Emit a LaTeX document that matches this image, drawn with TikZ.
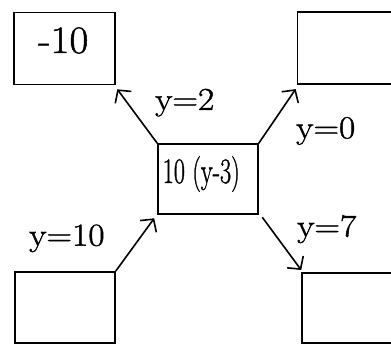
\documentclass[tikz,border=0pt]{standalone}
\usepackage{graphicx}
\usepackage{fontspec}
\newfontfamily\heavyfont{Latin Modern Roman}[FakeBold=1.2]
\usetikzlibrary{arrows.meta}
\tikzset{
  box/.style={draw, line width=1.6pt, rectangle, inner sep=0pt},
  arr/.style={line width=1.6pt, -{Straight Barb[length=9pt, width=20pt, line width=1.6pt]}},
  lbl/.style={anchor=base west, inner sep=0pt, font=\heavyfont\fontsize{32}{38}\selectfont},
}
\begin{document}
\begin{tikzpicture}[x=1pt, y=-1pt]
  \useasboundingbox (0,0) rectangle (391,344);
  % boxes
  \node[box, minimum width=101pt, minimum height=72pt] (tl) at (64.5,48.5) {};
  \node[box, minimum width=101pt, minimum height=72pt] (tr) at (347.8,48) {};
  \node[box, minimum width=100pt, minimum height=70pt] (c)  at (208,179) {};
  \node[box, minimum width=100pt, minimum height=71pt] (bl) at (65,307.3) {};
  \node[box, minimum width=100pt, minimum height=70pt] (br) at (352,307.8) {};
  % box texts
  \node[lbl, font=\heavyfont\fontsize{38.8}{44}\selectfont] (tltext) at (38,53) {\scalebox{1.06}[1]{-10}};
  \node[lbl, font=\heavyfont\fontsize{35.7}{40}\selectfont] (ctext) at (162.5,183) {\scalebox{0.68}[1]{10 (y-3)}};
  % arrows
  \draw[arr] (c.north west) -- ([shift={(1.5,4)}]tl.south east);
  \draw[arr] (c.north east) -- ([shift={(-0.8,4.3)}]tr.south west);
  \draw[arr] (bl.north east) -- ([shift={(-3,3.5)}]c.south west);
  \draw[arr] ([shift={(3.5,2.5)}]c.south east) -- ([shift={(0,-2)}]br.north west);
  % labels
  \node[lbl] (l2) at (155,110) {\scalebox{1.11}[1]{y=2}};
  \node[lbl] (l0) at (296,138.3) {\scalebox{1.11}[1]{y=0}};
  \node[lbl] (l10) at (29,245.7) {\scalebox{1.11}[1]{y=10}};
  \node[lbl] (l7) at (297,236.7) {\scalebox{1.11}[1]{y=7}};
\end{tikzpicture}
\end{document}
